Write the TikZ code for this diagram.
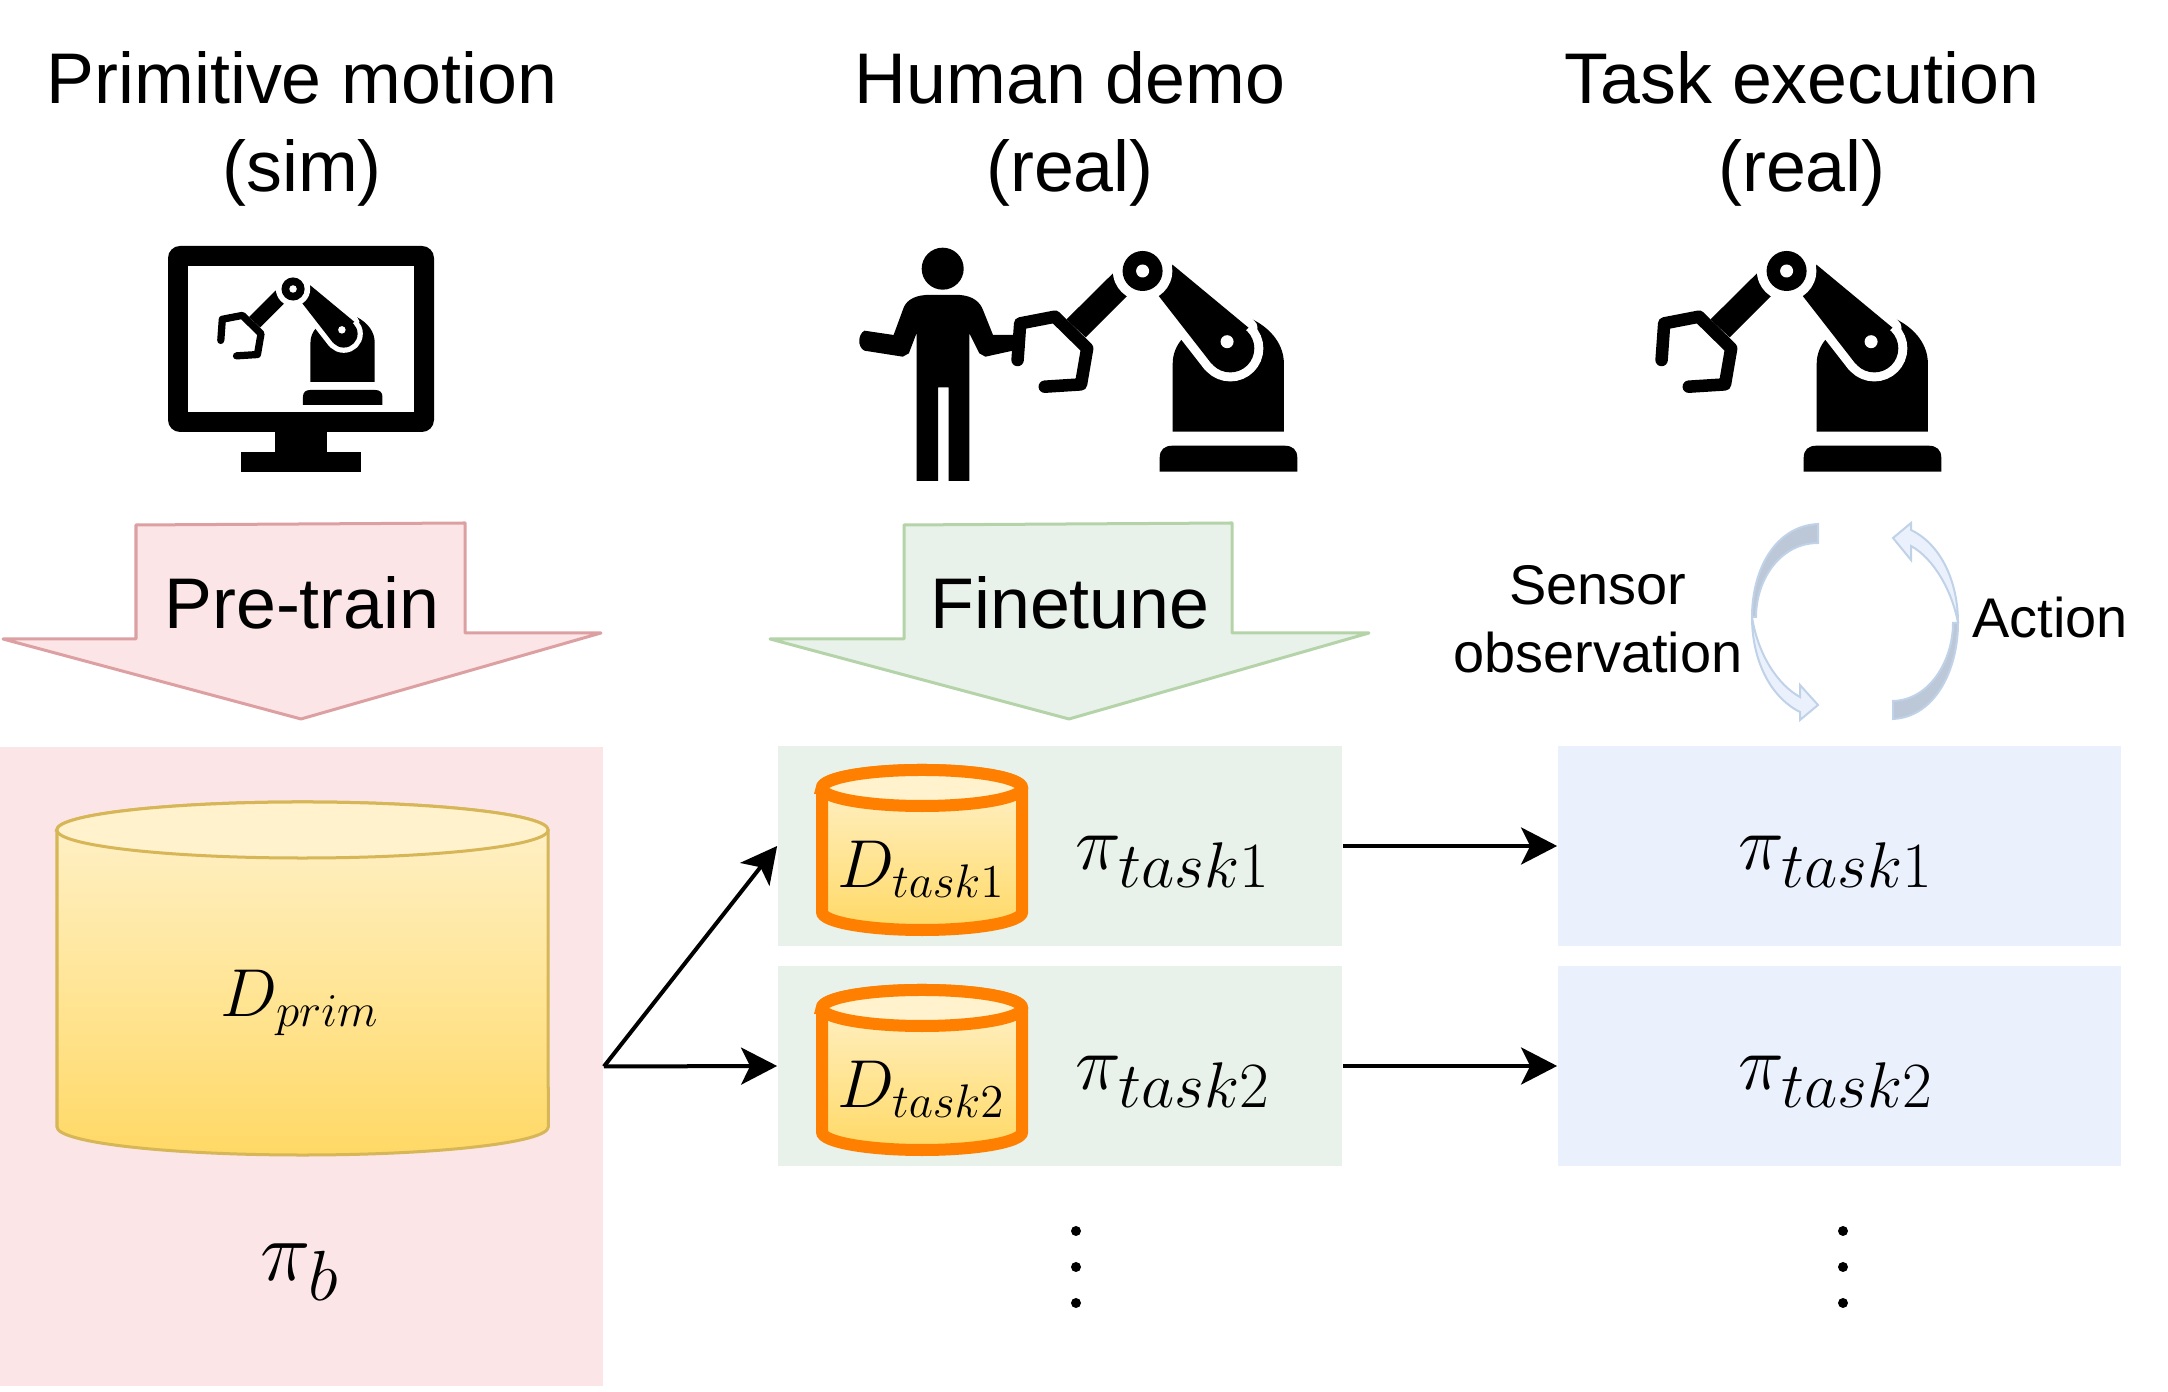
\documentclass[tikz,border=0pt]{standalone}
\usepackage{fontspec}
\setmainfont{Liberation Sans}
\usetikzlibrary{positioning,arrows.meta}

\definecolor{pinkfill}{HTML}{FBE5E6}
\definecolor{pinkline}{HTML}{DDA0A2}
\definecolor{greenfill}{HTML}{E8F2EA}
\definecolor{greenline}{HTML}{B5D3A8}
\definecolor{bluefill}{HTML}{EBF1FC}
\definecolor{bluegrey}{HTML}{BCC7D8}
\definecolor{blueline}{HTML}{C0D2E8}
\definecolor{drumtop}{HTML}{FFF2CC}
\definecolor{drumlow}{HTML}{FFD966}
\definecolor{drumline}{HTML}{D6B656}
\definecolor{drumorange}{HTML}{FF8000}

\tikzstyle{title}=[inner sep=0pt,align=center,font=\fontsize{20.4}{25}\selectfont]
\tikzstyle{small}=[inner sep=0pt,align=center,font=\fontsize{15.9}{19.4}\selectfont]
\tikzstyle{formula}=[inner sep=0pt,scale=0.93,font=\fontsize{20.74}{25}\selectfont]
\tikzstyle{policy}=[inner sep=0pt,scale=0.885,font=\fontsize{24.88}{28}\selectfont]
\tikzstyle{panel}=[inner sep=0pt,minimum width=5.64cm,minimum height=2cm]
\tikzstyle{flow}=[draw,line width=0.04cm,-{Stealth[length=0.36cm,width=0.37cm,inset=0.09cm]}]
\tikzstyle{vdot}=[circle,fill=black,inner sep=0pt,minimum size=0.1cm]
\tikzstyle{bigdrum}=[draw=drumline,line width=0.03cm]
\tikzstyle{taskdrum}=[draw=drumorange,line width=0.12cm]
\tikzstyle{blockarrow}=[line width=0.03cm,line join=round]

% centre x, top y, bottom y, x radius, y radius, style
\newcommand{\drum}[6]{
	\path[#6,top color=drumtop,bottom color=drumlow]
		({#1-100*#4},#2) -- ({#1-100*#4},#3) arc [start angle=180,end angle=360,x radius=#4cm,y radius=#5cm]
		-- ({#1+100*#4},#2) arc [start angle=0,end angle=180,x radius=#4cm,y radius=#5cm] -- cycle;
	\path[#6,fill=drumtop] (#1,#2) ellipse [x radius=#4cm,y radius=#5cm];
}

% x, y of the foot, size
\newcommand{\robot}[3]{
	\begin{scope}[shift={(#1,#2)},scale=#3]
		\fill (-68.8,0) -- (-68.8,-14) .. controls (-68.8,-22) and (-64,-26) .. (-56,-26) -- (56,-26)
			.. controls (64,-26) and (68.8,-22) .. (68.8,-14) -- (68.8,0) -- cycle;
		\fill (-55.8,-40) -- (-55.8,-108) .. controls (-55.8,-118) and (-52,-126) .. (-47,-132)
			-- (24.6,-152) .. controls (44,-142) and (55.4,-126) .. (55.4,-108) -- (55.4,-40) -- cycle;
		% upper arm with its white edge
		\path[draw=white,fill=white,line width=0.18cm*#3,line join=round]
			(-56,-207) -- (20,-144) -- (-17,-108) -- (-70,-176) -- cycle;
		\path[draw=white,fill=white,line width=0.18cm*#3] (1.8,-123.3) circle [radius=0.24cm];
		\fill (-56,-207) -- (20,-144) -- (-17,-108) -- (-70,-176) -- cycle;
		\fill (1.8,-123.3) circle [radius=0.24cm];
		\fill[white] (-1.4,-130) circle [radius=0.065cm];
		% forearm and joint
		\fill (-115.6,-198.3) -- (-162,-152.3) -- (-142.8,-134.3) -- (-101.4,-175.7) -- (-85.9,-200.7) -- cycle;
		\fill[white] (-85.9,-200.7) circle [radius=0.297cm];
		\fill (-85.9,-200.7) circle [radius=0.2cm];
		\fill[white] (-85.9,-200.7) circle [radius=0.065cm];
		% gripper
		\draw[line width=0.125cm*#3,line join=round,line cap=round]
			(-210.9,-111.7) -- (-208.3,-148.3) -- (-173.6,-155) -- (-141.3,-123.3) -- (-147.5,-87.3) -- (-183.7,-85);
	\end{scope}
}

\begin{document}
\begin{tikzpicture}[x=0.01cm,y=-0.01cm]
	\useasboundingbox (0,0) rectangle (2168,1392);

	% headings
	\node [title] (prim)  at (302,129)  {Primitive motion\\(sim)};
	\node [title] (demo)  at (1070,129) {Human demo\\(real)};
	\node [title] (exec)  at (1802,129) {Task execution\\(real)};

	% monitor
	\fill[rounded corners=0.12cm] (168,246) rectangle (434,432);
	\fill[white] (188,266) rectangle (414,412);
	\fill (275,432) rectangle (327,452);
	\fill (241,452) rectangle (361,472);
	\robot{342.7}{405}{0.578}

	% person
	\fill (942.7,268.7) circle [radius=0.21cm];
	\fill (925.7,295) .. controls (912,296) and (905,302) .. (902.8,310) -- (893.6,335) -- (864.5,330.7)
		.. controls (858,334) and (857,347) .. (864.5,350.7) -- (902.8,356.7) -- (908.9,353.3) -- (916.5,333.3)
		-- (916.5,481) -- (938,481) -- (938,387.3) -- (948.7,387.3) -- (948.7,481) -- (969.3,481) -- (969.3,333.3)
		-- (979.3,353.3) -- (985.4,356.7) -- (1025,348) -- (1021,335) -- (993,335) -- (983,310)
		.. controls (980,302) and (973,296) .. (960,295) -- cycle;
	\robot{1228.5}{471.7}{1}
	\robot{1872.5}{471.7}{1}

	% block arrows
	\path[blockarrow,draw=pinkline,fill=pinkfill] (136,525) -- (465,523) -- (465,633) -- (601,633) -- (301,719) -- (3,639) -- (136,639) -- cycle;
	\node [title] (pretrain) at (302,603) {Pre-train};
	\path[blockarrow,draw=greenline,fill=greenfill] (904,525) -- (1232,523) -- (1232,633) -- (1369,633) -- (1069,719) -- (770,639) -- (904,639) -- cycle;
	\node [title] (finetune) at (1070,603) {Finetune};

	% sensing loop
	\path[draw=blueline,fill=bluefill,line width=0.02cm] (1752,617) .. controls (1752,660) and (1770,697) .. (1800,712) -- (1800,720) -- (1818,705) -- (1800,685) -- (1800,697) .. controls (1778,685) and (1758,655) .. (1752,617) -- cycle;
	\path[draw=blueline,fill=bluegrey,line width=0.02cm] (1818,524) .. controls (1775,526) and (1752,570) .. (1752,617) -- (1756,617) .. controls (1756,580) and (1780,543) .. (1818,543) -- cycle;
	\path[draw=blueline,fill=bluefill,line width=0.02cm] (1958,623) .. controls (1958,580) and (1940,544) .. (1911,530) -- (1911,523) -- (1893,538) -- (1911,560) -- (1911,546) .. controls (1933,558) and (1952,590) .. (1958,623) -- cycle;
	\path[draw=blueline,fill=bluegrey,line width=0.02cm] (1893,719) .. controls (1935,717) and (1958,670) .. (1958,623) -- (1953,623) .. controls (1953,660) and (1930,700) .. (1893,701) -- cycle;
	\node [small] (sensor) at (1598,619) {Sensor\\observation};
	\node [small] (action) at (2050,618) {Action};

	% panels
	\node [panel,fill=pinkfill,minimum width=6.03cm,minimum height=6.39cm] (primbox) at (301.5,1066.5) {};
	\node [panel,fill=greenfill] (task1box) at (1060,846)  {};
	\node [panel,fill=greenfill] (task2box) at (1060,1066) {};
	\node [panel,fill=bluefill,minimum width=5.63cm] (exec1box) at (1839.5,846)  {};
	\node [panel,fill=bluefill,minimum width=5.63cm] (exec2box) at (1839.5,1066) {};

	% datasets
	\drum{302.5}{830}{1127}{2.455}{.28}{bigdrum}
	\drum{922}{788}{912}{1}{.18}{taskdrum}
	\drum{922}{1008}{1132}{1}{.18}{taskdrum}

	\node [formula] (dprim)  at (300,1003)  {$D_{prim}$};
	\node [policy,scale=1.1] (pib) at (300,1272)  {$\pi_b$};
	\node [formula] (dtask1) at (921,869)   {$D_{task1}$};
	\node [formula] (dtask2) at (921,1089)  {$D_{task2}$};
	\node [policy]  (pit1)   at (1173,862)  {$\pi_{task1}$};
	\node [policy]  (pit2)   at (1173,1082) {$\pi_{task2}$};
	\node [policy]  (pie1)   at (1836,862)  {$\pi_{task1}$};
	\node [policy]  (pie2)   at (1836,1082) {$\pi_{task2}$};

	% more tasks
	\foreach \y [count=\i] in {1231,1267,1303} {
		\node [vdot] (moretrain\i) at (1076,\y) {};
		\node [vdot] (moreexec\i)  at (1843,\y) {};
	}

	\draw [flow] (primbox.east) -- (task1box.west);
	\draw [flow] (primbox.east) -- (task2box.west);
	\draw [flow] (task1box) -- (exec1box);
	\draw [flow] (task2box) -- (exec2box);
\end{tikzpicture}
\end{document}
